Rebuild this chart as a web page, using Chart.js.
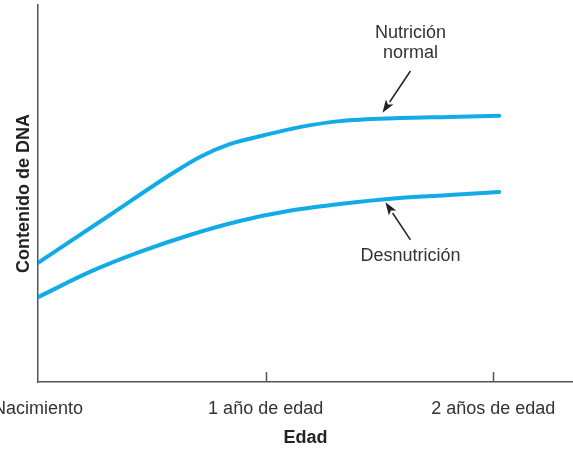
<!DOCTYPE html>
<html><head><meta charset="utf-8">
<script src="https://cdn.jsdelivr.net/npm/chart.js@4/dist/chart.umd.min.js"></script>
<style>html,body{margin:0;padding:0;background:#fff}#wrap{width:573px;height:450px}</style>
</head><body><div id="wrap"><canvas id="c" width="573" height="450"></canvas></div>
<script>
// x in years of age (0 = birth), y = DNA content (arbitrary units 0..100)
const tickValues = [0, 1, 2];
const tickLabels = ['Nacimiento', '1 año de edad', '2 años de edad'];
const normalX = [0, 0.316, 0.579, 0.711, 0.842, 0.996, 1.149, 1.325, 1.588, 1.807, 2.026];
const normalY = [31.6, 44.3, 54.9, 59.7, 63.1, 65.5, 67.6, 69.2, 70.0, 70.3, 70.6];
const desnutX = [0, 0.228, 0.447, 0.667, 0.886, 1.105, 1.325, 1.588, 1.807, 2.026];
const desnutY = [22.5, 29.2, 34.5, 39.0, 42.7, 45.4, 47.2, 48.8, 49.6, 50.4];
const annotations = [
  {lines: ['Nutrición', 'normal'], textX: 1.636, textY: [92.6, 87.3], tail: [1.636, 82.5], head: [1.513, 71.4]},
  {lines: ['Desnutrición'], textX: 1.636, textY: [33.4], tail: [1.636, 37.7], head: [1.526, 47.7]}
];

const pts = (xs, ys) => xs.map((x, i) => ({x, y: ys[i]}));
const blue = '#11ace8';
const txt = '#333333';
const FONT = "'Liberation Sans', Arial, Helvetica, sans-serif";

const canvas = document.getElementById('c');
const c2d = canvas.getContext('2d');
c2d.letterSpacing = '0.5px';

const annotPlugin = {
  id: 'annot',
  afterDatasetsDraw(chart) {
    const {ctx, scales: {x, y}} = chart;
    ctx.save();
    ctx.strokeStyle = '#555';
    ctx.lineWidth = 1.5;
    // inner tick marks on x axis
    const yb = y.getPixelForValue(0);
    tickValues.forEach(v => {
      if (v === 0) return;
      const px = Math.round(x.getPixelForValue(v)) + 0.5;
      ctx.beginPath(); ctx.moveTo(px, yb); ctx.lineTo(px, yb - 10); ctx.stroke();
    });
    ctx.font = '18px ' + FONT;
    ctx.fillStyle = txt;
    ctx.textAlign = 'center';
    ctx.textBaseline = 'middle';
    annotations.forEach(a => {
      a.lines.forEach((l, i) => ctx.fillText(l, x.getPixelForValue(a.textX), y.getPixelForValue(a.textY[i])));
      const tx = x.getPixelForValue(a.tail[0]), ty = y.getPixelForValue(a.tail[1]);
      const hx = x.getPixelForValue(a.head[0]), hy = y.getPixelForValue(a.head[1]);
      const ang = Math.atan2(hy - ty, hx - tx);
      const L = 13, W = 4.5;
      const bx = hx - L * Math.cos(ang), by = hy - L * Math.sin(ang);
      ctx.strokeStyle = '#222'; ctx.fillStyle = '#222'; ctx.lineWidth = 1.5;
      ctx.beginPath(); ctx.moveTo(tx, ty); ctx.lineTo(bx, by); ctx.stroke();
      ctx.beginPath();
      ctx.moveTo(hx, hy);
      ctx.lineTo(bx + W * Math.sin(ang), by - W * Math.cos(ang));
      ctx.lineTo(bx + 3 * Math.cos(ang), by + 3 * Math.sin(ang));
      ctx.lineTo(bx - W * Math.sin(ang), by + W * Math.cos(ang));
      ctx.closePath(); ctx.fill();
      ctx.fillStyle = txt;
    });
    ctx.restore();
  }
};

new Chart(canvas, {
  type: 'line',
  data: {
    datasets: [
      {label: 'Nutrición normal', data: pts(normalX, normalY)},
      {label: 'Desnutrición', data: pts(desnutX, desnutY)}
    ]
  },
  options: {
    responsive: false,
    animation: false,
    layout: {padding: {top: 5, right: 0, left: 0, bottom: 0}},
    elements: {
      line: {borderColor: blue, borderWidth: 4, cubicInterpolationMode: 'monotone', borderCapStyle: 'round'},
      point: {radius: 0}
    },
    plugins: {legend: {display: false}, tooltip: {enabled: false}},
    scales: {
      x: {
        type: 'linear', min: 0, max: 2.35,
        afterBuildTicks: s => { s.ticks = tickValues.map(v => ({value: v})); },
        afterFit: s => { s.height = 68; s.paddingLeft = 0; s.paddingRight = 0; },
        grid: {display: true, drawOnChartArea: false, drawTicks: false},
        border: {display: true, color: '#555', width: 1.5},
        ticks: {
          padding: 16, color: txt, maxRotation: 0, autoSkip: false,
          font: {family: FONT, size: 18},
          callback: v => tickLabels[tickValues.indexOf(v)] ?? ''
        },
        title: {display: true, text: 'Edad', color: '#222', font: {family: FONT, size: 18, weight: 'bold'}, padding: {top: 0, bottom: 1}}
      },
      y: {
        min: 0, max: 100,
        afterFit: s => { s.width = 38; },
        grid: {display: false, drawTicks: false},
        border: {display: true, color: '#555', width: 1.5},
        ticks: {display: false},
        title: {display: true, text: 'Contenido de DNA', color: '#222', font: {family: FONT, size: 18, weight: 'bold'}, padding: {top: 13, bottom: 0}}
      }
    }
  },
  plugins: [annotPlugin]
});
</script></body></html>
